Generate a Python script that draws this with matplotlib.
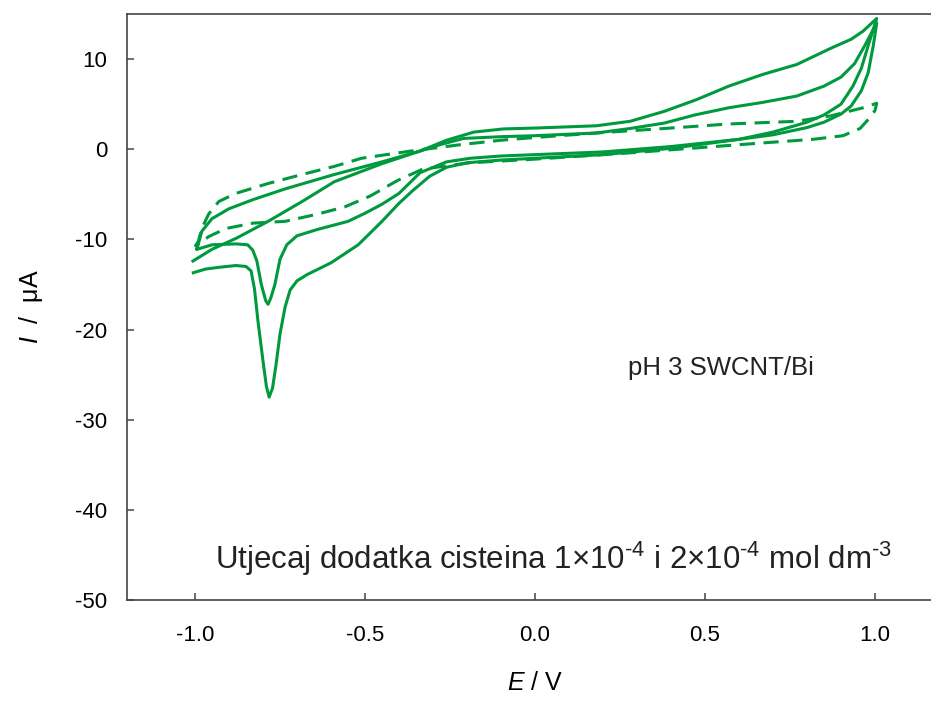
import matplotlib
matplotlib.use("Agg")
import matplotlib.pyplot as plt

plt.rcParams['font.family'] = ['Liberation Sans', 'DejaVu Sans']
plt.rcParams['axes.unicode_minus'] = False
plt.rcParams['mathtext.fontset'] = 'custom'
plt.rcParams['mathtext.rm'] = 'Liberation Sans'
plt.rcParams['mathtext.it'] = 'Liberation Sans:italic'

# blank (dashed) CV loop
E_blank = [-1.0, -0.99, -0.98, -0.96, -0.93, -0.88, -0.785, -0.685, -0.59, -0.51,
           -0.365, -0.22, -0.1, 0.0, 0.18, 0.38, 0.57, 0.77, 0.87, 0.965, 1.005,
           1.0, 0.985, 0.956, 0.906, 0.818, 0.67, 0.475, 0.28, 0.0, -0.19, -0.27,
           -0.33, -0.406, -0.485, -0.56, -0.64, -0.735, -0.83, -0.91, -0.96, -1.0]
I_blank = [-10.8, -10.2, -8.8, -7.2, -5.8, -4.9, -3.8, -2.8, -1.9, -1.0,
           -0.2, 0.5, 1.0, 1.3, 1.8, 2.3, 2.8, 3.1, 3.7, 4.6, 5.1,
           4.3, 3.5, 2.3, 1.5, 1.1, 0.7, 0.15, -0.4, -1.1, -1.5, -1.9,
           -2.2, -3.5, -5.2, -6.4, -7.2, -8.0, -8.2, -8.8, -9.7, -10.8]

# cisteina 1e-4
E_c1 = [-0.994, -0.95, -0.88, -0.845, -0.83, -0.818, -0.805, -0.792, -0.785, -0.777,
        -0.765, -0.75, -0.73, -0.70, -0.64, -0.55, -0.50, -0.45, -0.40, -0.338,
        -0.26, -0.19, -0.1, 0.0, 0.2, 0.4, 0.5, 0.6, 0.7, 0.8,
        0.85, 0.9, 0.93, 0.96, 0.98, 0.995, 1.005, 0.97, 0.94, 0.9,
        0.85, 0.77, 0.67, 0.57, 0.47, 0.38, 0.28, 0.18, 0.0, -0.094,
        -0.21, -0.28, -0.338, -0.45, -0.59, -0.735, -0.83, -0.9, -0.95, -0.98, -0.994]
I_c1 = [-11.1, -10.6, -10.5, -10.6, -11.2, -12.4, -15.0, -16.8, -17.2, -16.5,
        -15.0, -12.2, -10.6, -9.6, -8.9, -8.0, -7.1, -6.1, -4.9, -2.6,
        -1.4, -1.0, -0.75, -0.6, -0.3, 0.3, 0.7, 1.1, 1.6, 2.4,
        3.0, 3.9, 4.8, 6.5, 8.5, 11.5, 14.0, 11.5, 9.5, 8.0,
        7.0, 5.9, 5.2, 4.6, 3.8, 2.9, 2.3, 1.8, 1.5, 1.4,
        1.2, 0.5, -0.2, -1.4, -2.8, -4.4, -5.6, -6.6, -7.7, -9.1, -11.0]

# cisteina 2e-4
E_c2 = [-1.005, -0.97, -0.93, -0.88, -0.85, -0.835, -0.825, -0.815, -0.80, -0.79,
        -0.782, -0.772, -0.762, -0.75, -0.735, -0.72, -0.70, -0.67, -0.60, -0.52,
        -0.45, -0.40, -0.36, -0.31, -0.26, -0.2, -0.1, 0.0, 0.2, 0.4,
        0.5, 0.6, 0.7, 0.8, 0.85, 0.9, 0.935, 0.96, 0.98, 1.005,
        0.965, 0.93, 0.87, 0.82, 0.77, 0.67, 0.57, 0.475, 0.38, 0.28,
        0.18, 0.0, -0.094, -0.18, -0.26, -0.338, -0.45, -0.59, -0.685, -0.785,
        -0.88, -0.95, -1.006]
I_c2 = [-13.7, -13.3, -13.1, -12.9, -13.0, -13.5, -15.5, -19.0, -23.5, -26.3,
        -27.5, -26.5, -24.0, -20.5, -17.5, -15.6, -14.6, -13.9, -12.6, -10.6,
        -8.0, -6.0, -4.6, -3.0, -2.0, -1.5, -1.2, -1.0, -0.6, 0.1,
        0.6, 1.1, 1.9, 3.0, 3.8, 5.0, 7.0, 9.0, 11.5, 14.5,
        13.1, 12.2, 11.2, 10.3, 9.4, 8.3, 7.0, 5.5, 4.2, 3.1,
        2.6, 2.35, 2.25, 1.9, 1.0, -0.2, -1.6, -3.6, -5.8, -8.0,
        -9.9, -11.1, -12.4]

x_ticks = [-1.0, -0.5, 0.0, 0.5, 1.0]
y_ticks = [-50, -40, -30, -20, -10, 0, 10]

green = '#009a3e'

fig = plt.figure(figsize=(9.31, 7.04), dpi=100)
ax = fig.add_axes([127 / 931, 104 / 704, 816 / 931, 586 / 704])

style = dict(color=green, lw=2.2, solid_joinstyle='round', dash_joinstyle='round')
ax.plot(E_blank, I_blank, dashes=(5, 2.8), **style)
ax.plot(E_c1, I_c1, **style)
ax.plot(E_c2, I_c2, **style)

ax.set_xlim(-1.2, 1.2)
ax.set_ylim(-50, 15)
ax.set_xticks(x_ticks)
ax.set_xticklabels([f"{v:.1f}" for v in x_ticks])
ax.set_yticks(y_ticks)
ax.set_yticklabels([str(v) for v in y_ticks])

for s in ax.spines.values():
    s.set_color('#444444')
    s.set_linewidth(1.2)
ax.tick_params(direction='in', length=5, width=1.1, color='#444444', labelsize=16)
ax.tick_params(axis='x', pad=18)
ax.tick_params(axis='y', pad=14)

ax.set_xlabel(r"$E$ / V", fontsize=18, labelpad=18)
ax.set_ylabel(r"$I$  /  μA", fontsize=18, labelpad=22)

ax.text(0.274, -24.3, "pH 3 SWCNT/Bi", fontsize=18.5, va='center', ha='left', color='#222222')
ax.text(-0.94, -45.4, "Utjecaj dodatka cisteina 1×10$^{\u20104}$ i 2×10$^{\u20104}$ mol dm$^{\u20103}$",
        fontsize=22.5, va='center', ha='left', color='#222222')

fig.savefig("out.png", dpi=100)
